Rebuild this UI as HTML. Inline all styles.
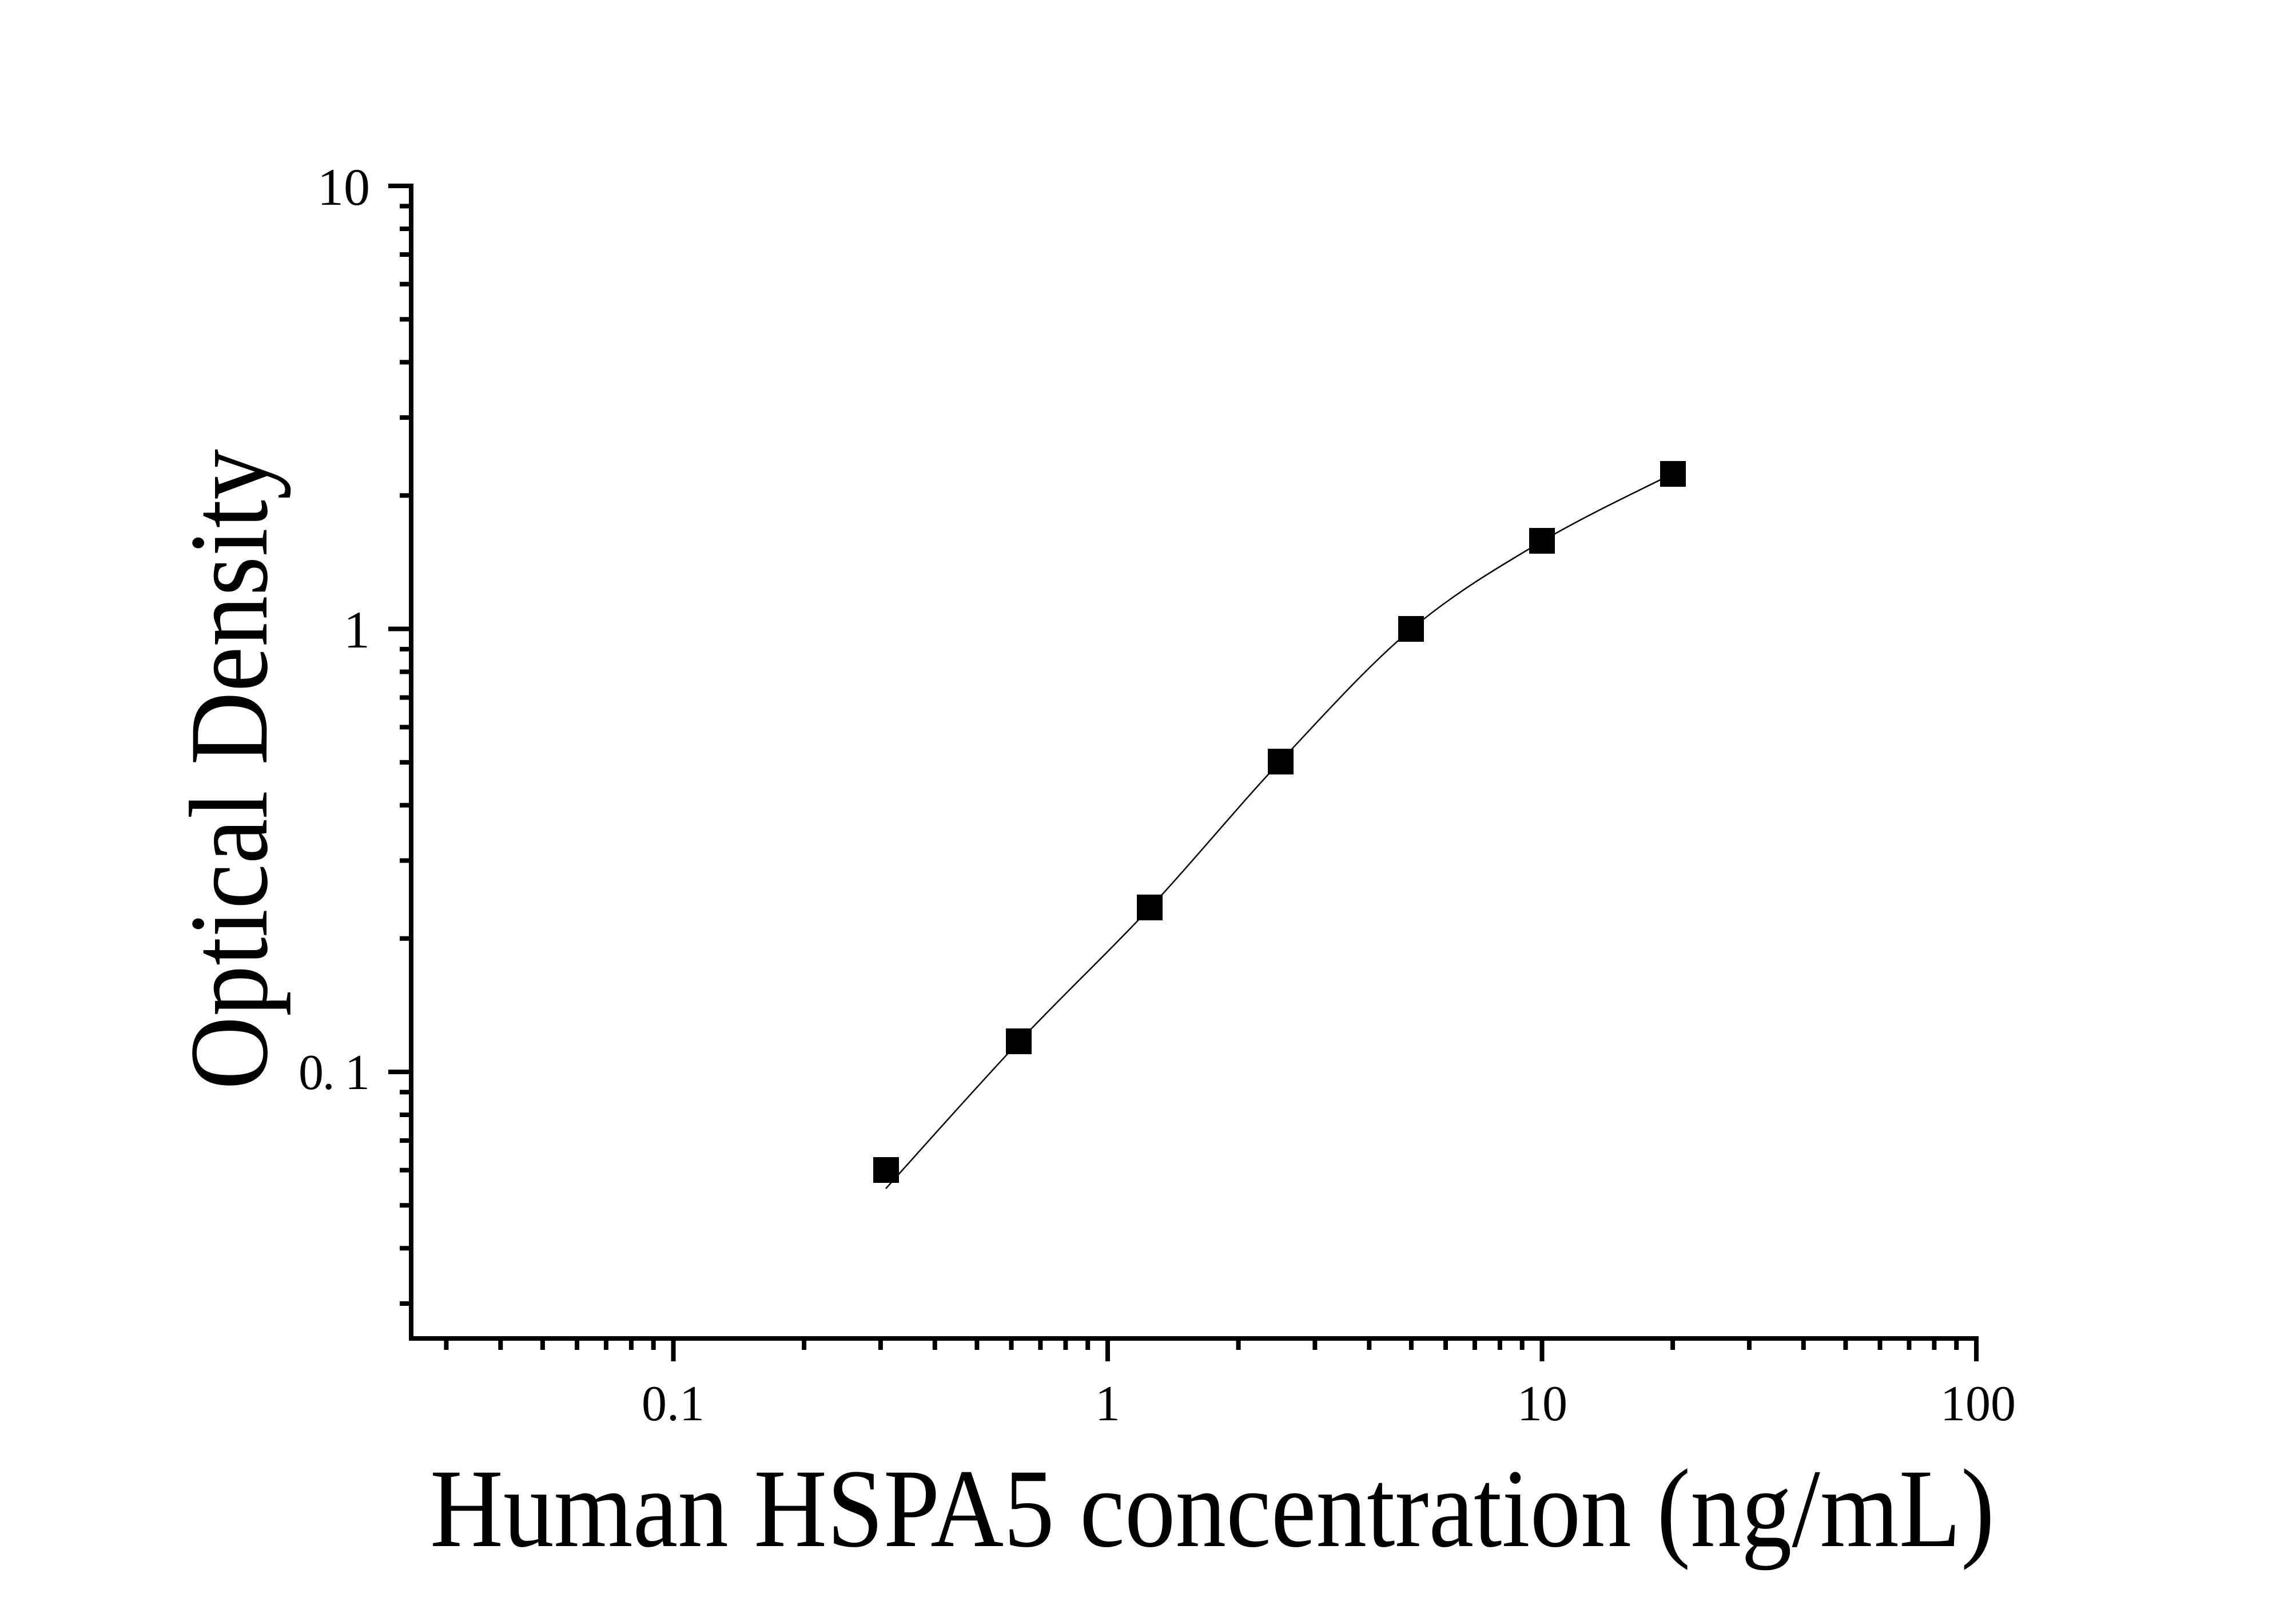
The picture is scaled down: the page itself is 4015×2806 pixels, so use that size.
<!DOCTYPE html>
<html><head><meta charset="utf-8"><style>html,body{margin:0;padding:0;background:#fff}svg{display:block}</style></head>
<body>
<svg width="4015" height="2806" viewBox="0 0 4015 2806" xmlns="http://www.w3.org/2000/svg">
<rect width="4015" height="2806" fill="#fff"/>
<g stroke="#000" stroke-width="8" fill="none">
<path d="M780.4,2340V2360M875.3,2340V2360M948.9,2340V2360M1009,2340V2360M1059.9,2340V2360M1103.9,2340V2360M1142.7,2340V2360M1177.5,2340V2380
M1406.1,2340V2360M1539.9,2340V2360M1634.8,2340V2360M1708.4,2340V2360M1768.5,2340V2360M1819.4,2340V2360M1863.4,2340V2360M1902.2,2340V2360M1937,2340V2380
M2165.6,2340V2360M2299.4,2340V2360M2394.3,2340V2360M2467.9,2340V2360M2528,2340V2360M2578.9,2340V2360M2622.9,2340V2360M2661.7,2340V2360M2696.5,2340V2380
M2925.1,2340V2360M3058.9,2340V2360M3153.8,2340V2360M3227.4,2340V2360M3287.5,2340V2360M3338.4,2340V2360M3382.4,2340V2360M3421.2,2340V2360M3456,2340V2380"/>
<path d="M699,2279H719M699,2182.2H719M699,2107.2H719M699,2045.8H719M699,1994H719M699,1949H719M699,1909.4H719M679,1874H719
M699,1640.8H719M699,1504.5H719M699,1407.7H719M699,1332.7H719M699,1271.3H719M699,1219.5H719M699,1174.5H719M699,1134.9H719M679,1099.5H719
M699,866.3H719M699,730H719M699,633.2H719M699,558.2H719M699,496.8H719M699,445H719M699,400H719M699,360.4H719M679,325H719"/>
<line x1="719" y1="321" x2="719" y2="2344"/>
<line x1="715" y1="2340" x2="3460" y2="2340"/>
</g>
<path d="M1549,2078 C1587.8,2035.2 1705,1902.8 1782,1821 C1859,1739.2 1934.8,1668.7 2011,1587 C2087.2,1505.3 2162.8,1412.2 2239,1331 C2315.2,1249.8 2391.7,1164.2 2468,1100 C2544.3,1035.8 2620.8,991.3 2697,946 C2773.2,900.7 2887,847.7 2925,828" fill="none" stroke="#000" stroke-width="2.5"/>
<g fill="#000">
<rect x="1527" y="2023" width="45" height="45"/>
<rect x="1759" y="1798" width="45" height="45"/>
<rect x="1988" y="1564" width="45" height="45"/>
<rect x="2217" y="1309" width="45" height="45"/>
<rect x="2445" y="1077" width="45" height="45"/>
<rect x="2674" y="923" width="45" height="45"/>
<rect x="2903" y="806" width="45" height="45"/>
</g>
<g font-family="Liberation Serif, serif" font-size="88" fill="#000">
<text x="1177" y="2483" text-anchor="middle">0.1</text>
<text x="1937" y="2483" text-anchor="middle">1</text>
<text x="2697" y="2483" text-anchor="middle">10</text>
<text x="3459" y="2483" text-anchor="middle">100</text>
<text x="647" y="358" text-anchor="end" font-size="92">10</text>
<text x="647" y="1132" text-anchor="end" font-size="92">1</text>
<text x="647" y="1904" text-anchor="end" textLength="125" lengthAdjust="spacing">0. 1</text>
</g>
<text x="752" y="2703" font-family="Liberation Serif, serif" font-size="196" textLength="2736" lengthAdjust="spacingAndGlyphs">Human HSPA5 concentration (ng/mL)</text>
<text transform="translate(466,1905) rotate(-90)" x="0" y="0" font-family="Liberation Serif, serif" font-size="196" textLength="1120" lengthAdjust="spacingAndGlyphs">Optical Density</text>
</svg>
</body></html>
